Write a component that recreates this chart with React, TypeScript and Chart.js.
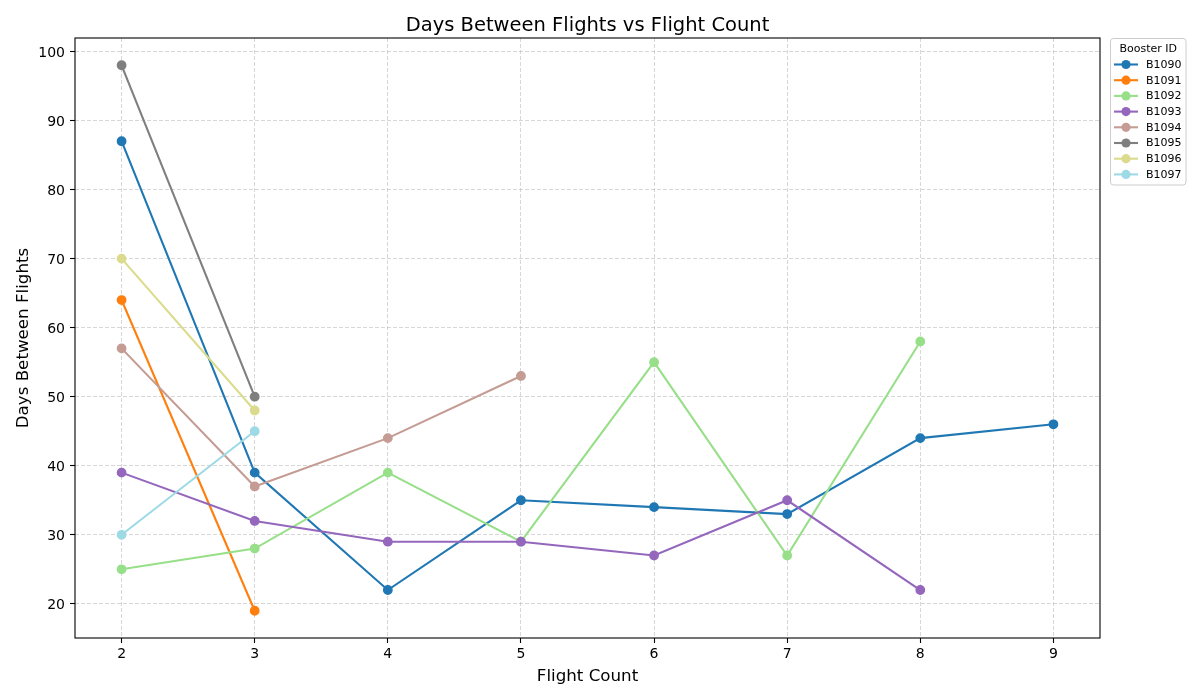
import { useEffect, useRef } from 'react';
import Chart from 'chart.js/auto';

const flightCounts = [2, 3, 4, 5, 6, 7, 8, 9];
const boosterIds = ['B1090', 'B1091', 'B1092', 'B1093', 'B1094', 'B1095', 'B1096', 'B1097'];
const b1090 = [87, 39, 22, 35, 34, 33, 44, 46];
const b1091 = [64, 19];
const b1092 = [25, 28, 39, 29, 55, 27, 58];
const b1093 = [39, 32, 29, 29, 27, 35, 22];
const b1094 = [57, 37, 44, 53];
const b1095 = [98, 50];
const b1096 = [70, 48];
const b1097 = [30, 45];
const seriesValues = [b1090, b1091, b1092, b1093, b1094, b1095, b1096, b1097];
const colors = ['#1f77b4', '#ff7f0e', '#98df8a', '#9467bd', '#c49c94', '#7f7f7f', '#dbdb8d', '#9edae5'];
const xTicks = [2, 3, 4, 5, 6, 7, 8, 9];
const yTicks = [20, 30, 40, 50, 60, 70, 80, 90, 100];

const FONT = "'DejaVu Sans', sans-serif";

// title, axes frame and the boxed legend outside the plot, drawn the matplotlib way
const extrasPlugin = {
  id: 'extras',
  afterDraw(chart: any) {
    const { ctx, chartArea } = chart;
    const { left, right, top, bottom } = chartArea;
    ctx.save();

    ctx.strokeStyle = '#000';
    ctx.lineWidth = 1.1;
    ctx.strokeRect(left, top, right - left, bottom - top);

    ctx.fillStyle = '#000';
    ctx.font = `19.5px ${FONT}`;
    ctx.textAlign = 'center';
    ctx.textBaseline = 'alphabetic';
    ctx.fillText('Days Between Flights vs Flight Count', (left + right) / 2, 31);

    // legend box
    const bx = 1110.5, by = 38.5, bw = 75.5, bh = 146.5, r = 3;
    ctx.beginPath();
    ctx.moveTo(bx + r, by);
    ctx.arcTo(bx + bw, by, bx + bw, by + bh, r);
    ctx.arcTo(bx + bw, by + bh, bx, by + bh, r);
    ctx.arcTo(bx, by + bh, bx, by, r);
    ctx.arcTo(bx, by, bx + bw, by, r);
    ctx.closePath();
    ctx.fillStyle = 'rgba(255,255,255,0.8)';
    ctx.fill();
    ctx.strokeStyle = '#cccccc';
    ctx.lineWidth = 1;
    ctx.stroke();

    ctx.fillStyle = '#000';
    ctx.font = `11px ${FONT}`;
    ctx.textBaseline = 'middle';
    ctx.fillText('Booster ID', bx + bw / 2, 49.5);

    ctx.textAlign = 'left';
    boosterIds.forEach((id, i) => {
      const y = 64.5 + i * 15.7;
      ctx.strokeStyle = colors[i];
      ctx.lineWidth = 2.1;
      ctx.beginPath();
      ctx.moveTo(1114, y);
      ctx.lineTo(1138, y);
      ctx.stroke();
      ctx.fillStyle = colors[i];
      ctx.beginPath();
      ctx.arc(1126, y, 4.6, 0, Math.PI * 2);
      ctx.fill();
      ctx.fillStyle = '#000';
      ctx.fillText(id, 1146, y + 0.5);
    });

    ctx.restore();
  },
};

const App = () => {
  const chartRef = useRef<HTMLCanvasElement | null>(null);
  const chartInstance = useRef<Chart | null>(null);

  useEffect(() => {
    if (chartInstance.current) {
      chartInstance.current.destroy();
    }
    if (!chartRef.current) return;
    const ctx = chartRef.current.getContext('2d');
    if (!ctx) return;

    const datasets = seriesValues.map((vals, i) => ({
      label: boosterIds[i],
      data: vals.map((v, j) => ({ x: flightCounts[j], y: v })),
      borderColor: colors[i],
      backgroundColor: colors[i],
      pointBackgroundColor: colors[i],
      pointBorderColor: colors[i],
      pointRadius: 4.2,
      pointBorderWidth: 1.4,
      borderWidth: 2.1,
      tension: 0,
      fill: false,
      order: seriesValues.length - i,
    }));

    const gridOpts = {
      color: 'rgba(176,176,176,0.5)',
      lineWidth: 1,
      tickLength: 5,
      tickColor: '#000',
      tickWidth: 1.1,
      tickBorderDash: [],
    };
    // in chart.js 4 the grid line dash lives under border
    const borderOpts = { display: false, dash: [4, 2] };

    chartInstance.current = new Chart(ctx, {
      type: 'line',
      data: { datasets },
      plugins: [extrasPlugin],
      options: {
        responsive: false,
        animation: false,
        layout: { padding: { top: 38, right: 100, bottom: 0, left: 0 } },
        plugins: {
          legend: { display: false },
          tooltip: { enabled: false },
        },
        scales: {
          x: {
            type: 'linear',
            min: 1.65,
            max: 9.35,
            border: borderOpts,
            grid: gridOpts,
            ticks: { color: '#000', font: { family: FONT, size: 14 }, padding: 3 },
            afterBuildTicks: (s: any) => {
              s.ticks = xTicks.map((v) => ({ value: v }));
            },
            afterFit: (s: any) => {
              s.height = 62;
            },
            title: {
              display: true,
              text: 'Flight Count',
              color: '#000',
              font: { family: FONT, size: 16.7 },
              padding: { top: 0, bottom: 13 },
            },
          },
          y: {
            type: 'linear',
            min: 15.05,
            max: 101.95,
            border: borderOpts,
            grid: gridOpts,
            ticks: { color: '#000', font: { family: FONT, size: 14 }, padding: 5, labelOffset: 1.5 },
            afterBuildTicks: (s: any) => {
              s.ticks = yTicks.map((v) => ({ value: v }));
            },
            afterFit: (s: any) => {
              s.width = 75;
            },
            title: {
              display: true,
              text: 'Days Between Flights',
              color: '#000',
              font: { family: FONT, size: 16.7 },
              padding: { top: 14, bottom: 0 },
            },
          },
        },
      },
    } as any);

    return () => {
      if (chartInstance.current) {
        chartInstance.current.destroy();
        chartInstance.current = null;
      }
    };
  }, []);

  return (
    <div style={{ position: 'absolute', left: 0, top: 0, background: '#fff' }}>
      <canvas ref={chartRef} width={1200} height={700} style={{ display: 'block' }} />
    </div>
  );
};

export default App;
